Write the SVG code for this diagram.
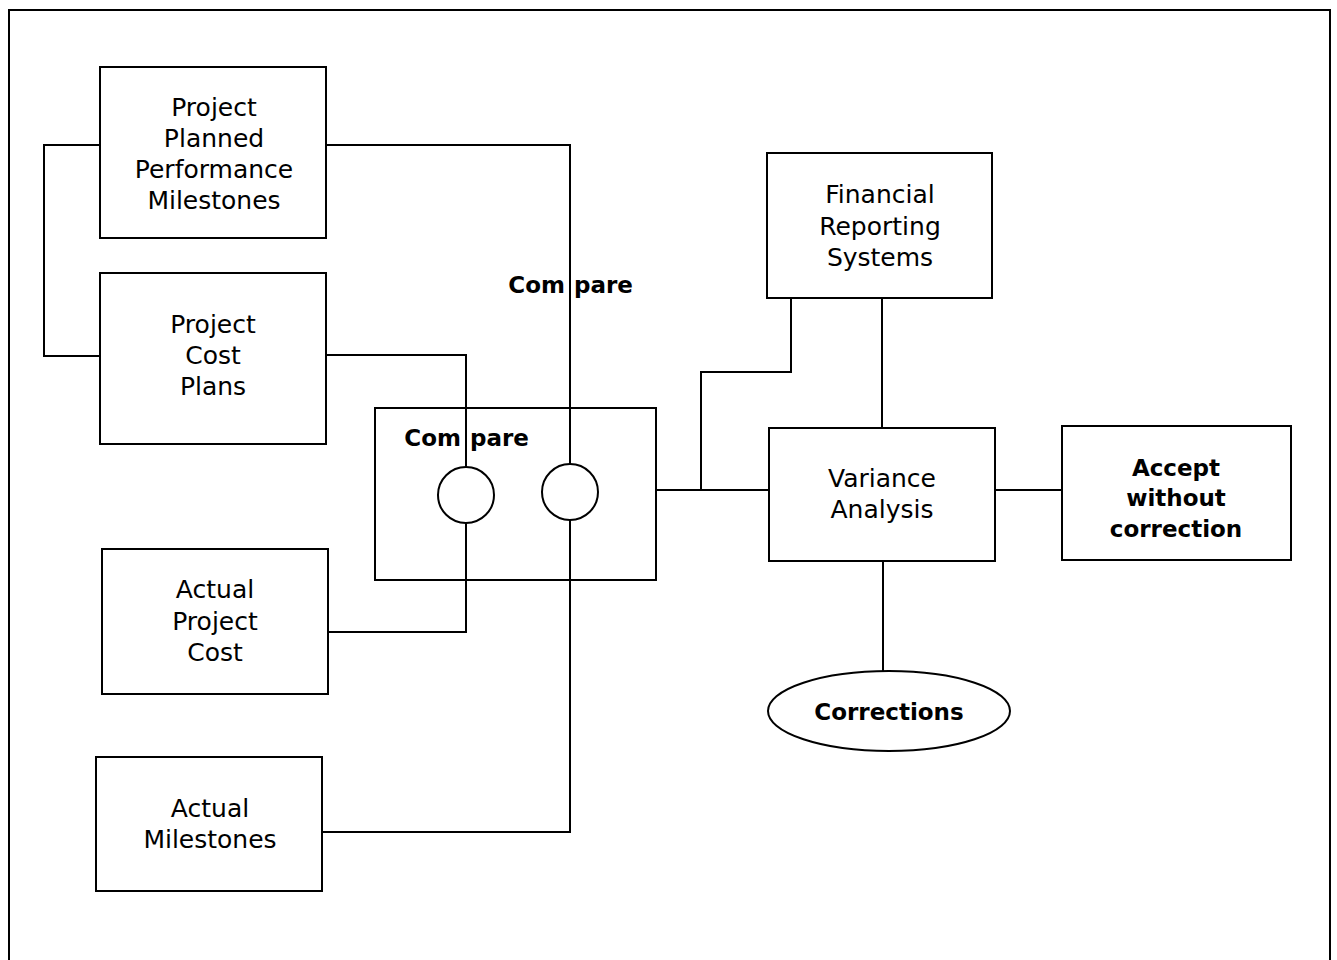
<svg xmlns="http://www.w3.org/2000/svg" width="1337" height="960" viewBox="0 0 1337 960">
<style>
.box{fill:#fff;stroke:#000;stroke-width:2}
.ln{fill:none;stroke:#000;stroke-width:2}
.t{font-family:"DejaVu Sans",sans-serif;font-size:25px;text-anchor:middle;fill:#000}
.b{font-family:"DejaVu Sans",sans-serif;font-size:23px;font-weight:bold;text-anchor:middle;fill:#000}
.bs{font-family:"DejaVu Sans",sans-serif;font-size:23px;font-weight:bold;text-anchor:start;fill:#000}
.be{font-family:"DejaVu Sans",sans-serif;font-size:23px;font-weight:bold;text-anchor:end;fill:#000}
</style>
<rect width="1337" height="960" fill="#fff"/>
<rect x="9" y="10" width="1321" height="970" class="ln" stroke-width="2.5"/>
<g id="connectors">
<path class="ln" d="M100 145 H44 V356 H100"/>
<path class="ln" d="M326 145 H570 V464"/>
<path class="ln" d="M326 355 H466 V467"/>
<path class="ln" d="M328 632 H466 V523"/>
<path class="ln" d="M322 832 H570 V520"/>
<path class="ln" d="M656 490 H769"/>
<path class="ln" d="M701 490 V372 H791 V298"/>
<path class="ln" d="M882 298 V428"/>
<path class="ln" d="M995 490 H1062"/>
<path class="ln" d="M883 561 V671"/>
</g>
<g id="compare">
<rect x="375" y="408" width="281" height="172" style="fill:none;stroke:#000;stroke-width:2"/>
<circle class="box" cx="466" cy="495" r="28"/>
<circle class="box" cx="570" cy="492" r="28"/>
<text class="be" x="461" y="446">Com</text>
<text class="bs" x="470" y="446">pare</text>
</g>
<g id="compare-label">
<text class="be" x="565" y="293">Com</text>
<text class="bs" x="574" y="293">pare</text>
</g>
<g id="planned-milestones">
<rect class="box" x="100" y="67" width="226" height="171"/>
<text class="t" x="214" y="116">Project</text>
<text class="t" x="214" y="147">Planned</text>
<text class="t" x="214" y="178">Performance</text>
<text class="t" x="214" y="209">Milestones</text>
</g>
<g id="cost-plans">
<rect class="box" x="100" y="273" width="226" height="171"/>
<text class="t" x="213" y="333">Project</text>
<text class="t" x="213" y="364">Cost</text>
<text class="t" x="213" y="395">Plans</text>
</g>
<g id="actual-cost">
<rect class="box" x="102" y="549" width="226" height="145"/>
<text class="t" x="215" y="598">Actual</text>
<text class="t" x="215" y="630">Project</text>
<text class="t" x="215" y="661">Cost</text>
</g>
<g id="actual-milestones">
<rect class="box" x="96" y="757" width="226" height="134"/>
<text class="t" x="210" y="817">Actual</text>
<text class="t" x="210" y="848">Milestones</text>
</g>
<g id="financial">
<rect class="box" x="767" y="153" width="225" height="145"/>
<text class="t" x="880" y="203">Financial</text>
<text class="t" x="880" y="235">Reporting</text>
<text class="t" x="880" y="266">Systems</text>
</g>
<g id="variance">
<rect class="box" x="769" y="428" width="226" height="133"/>
<text class="t" x="882" y="487">Variance</text>
<text class="t" x="882" y="518">Analysis</text>
</g>
<g id="accept">
<rect class="box" x="1062" y="426" width="229" height="134"/>
<text class="b" x="1176" y="476">Accept</text>
<text class="b" x="1176" y="506">without</text>
<text class="b" x="1176" y="537">correction</text>
</g>
<g id="corrections">
<ellipse class="box" cx="889" cy="711" rx="121" ry="40"/>
<text class="b" x="889" y="720">Corrections</text>
</g>
</svg>
